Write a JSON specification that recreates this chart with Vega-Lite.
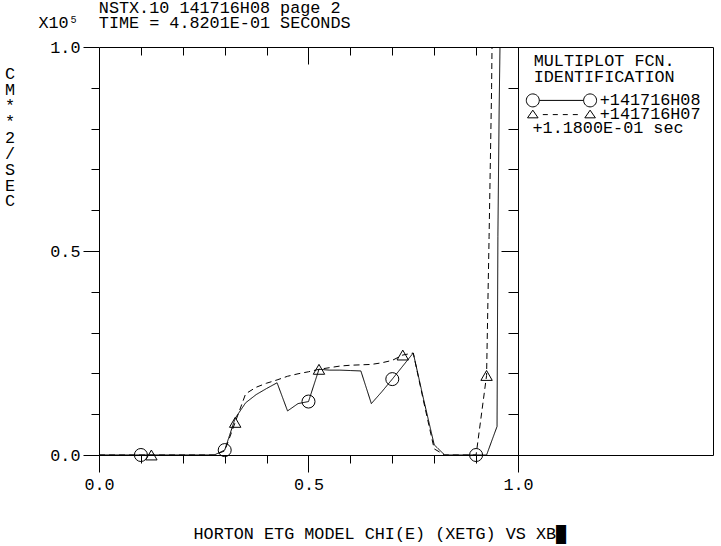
{
  "$schema": "https://vega.github.io/schema/vega-lite/v6.json",
  "width": 614,
  "height": 408,
  "autosize": {"type": "none"},
  "padding": {"left": 99, "top": 47, "right": 8, "bottom": 91},
  "background": "white",
  "config": {
    "view": {"stroke": null},
    "font": "Liberation Mono, DejaVu Sans Mono",
    "axis": {
      "grid": false,
      "tickColor": "black",
      "domainColor": "black",
      "tickWidth": 1,
      "domainWidth": 1,
      "labelFont": "Liberation Mono, DejaVu Sans Mono",
      "labelFontSize": 16.8,
      "labelColor": "black",
      "titleFont": "Liberation Mono, DejaVu Sans Mono",
      "titleFontSize": 16.8,
      "titleFontWeight": "normal",
      "titleColor": "black",
      "labelFlush": false,
      "labelOverlap": false
    },
    "legend": {
      "orient": "none",
      "direction": "vertical",
      "padding": 0,
      "titleFont": "Liberation Mono, DejaVu Sans Mono",
      "titleFontSize": 16.8,
      "titleFontWeight": "normal",
      "titleColor": "black",
      "labelFont": "Liberation Mono, DejaVu Sans Mono",
      "labelFontSize": 16.8,
      "labelColor": "black",
      "labelLimit": 300,
      "symbolSize": 144,
      "symbolStrokeWidth": 1,
      "symbolStrokeColor": "black",
      "symbolFillColor": "transparent",
      "symbolOpacity": 1
    }
  },
  "title": {
    "text": ["\u200b\u00a0\u00a0\u00a0\u00a0\u00a0\u00a0NSTX.10 141716H08 page 2", "X10\u2075\u00a0\u00a0TIME = 4.8201E-01 SECONDS"],
    "anchor": "start",
    "frame": "group",
    "dx": -60.6,
    "dy": 16.5,
    "font": "Liberation Mono, DejaVu Sans Mono",
    "fontSize": 16.8,
    "fontWeight": "normal",
    "color": "black",
    "lineHeight": 14.6,
    "baseline": "alphabetic",
    "offset": 11
  },
  "datasets": {
    "curves": [
      {"s": "+141716H08", "x": 0, "y": 0},
      {"s": "+141716H08", "x": 0.1, "y": 0},
      {"s": "+141716H08", "x": 0.2, "y": 0},
      {"s": "+141716H08", "x": 0.275, "y": 0},
      {"s": "+141716H08", "x": 0.3, "y": 0.012},
      {"s": "+141716H08", "x": 0.325, "y": 0.09},
      {"s": "+141716H08", "x": 0.35, "y": 0.128},
      {"s": "+141716H08", "x": 0.375, "y": 0.148},
      {"s": "+141716H08", "x": 0.4, "y": 0.163},
      {"s": "+141716H08", "x": 0.425, "y": 0.177},
      {"s": "+141716H08", "x": 0.45, "y": 0.108},
      {"s": "+141716H08", "x": 0.475, "y": 0.126},
      {"s": "+141716H08", "x": 0.5, "y": 0.131},
      {"s": "+141716H08", "x": 0.525, "y": 0.21},
      {"s": "+141716H08", "x": 0.55, "y": 0.208},
      {"s": "+141716H08", "x": 0.575, "y": 0.208},
      {"s": "+141716H08", "x": 0.6, "y": 0.207},
      {"s": "+141716H08", "x": 0.625, "y": 0.206},
      {"s": "+141716H08", "x": 0.65, "y": 0.126},
      {"s": "+141716H08", "x": 0.675, "y": 0.155},
      {"s": "+141716H08", "x": 0.7, "y": 0.186},
      {"s": "+141716H08", "x": 0.725, "y": 0.218},
      {"s": "+141716H08", "x": 0.75, "y": 0.25},
      {"s": "+141716H08", "x": 0.775, "y": 0.135},
      {"s": "+141716H08", "x": 0.8, "y": 0.025},
      {"s": "+141716H08", "x": 0.825, "y": 0},
      {"s": "+141716H08", "x": 0.9, "y": 0},
      {"s": "+141716H08", "x": 0.925, "y": 0},
      {"s": "+141716H08", "x": 0.95, "y": 0.07},
      {"s": "+141716H08", "x": 0.952, "y": 0.535},
      {"s": "+141716H08", "x": 0.955, "y": 0.845},
      {"s": "+141716H08", "x": 0.957, "y": 1.0},
      {"s": "+141716H07", "x": 0, "y": 0},
      {"s": "+141716H07", "x": 0.125, "y": 0},
      {"s": "+141716H07", "x": 0.275, "y": 0},
      {"s": "+141716H07", "x": 0.3, "y": 0.01},
      {"s": "+141716H07", "x": 0.325, "y": 0.08},
      {"s": "+141716H07", "x": 0.35, "y": 0.15},
      {"s": "+141716H07", "x": 0.375, "y": 0.166},
      {"s": "+141716H07", "x": 0.4, "y": 0.176},
      {"s": "+141716H07", "x": 0.425, "y": 0.184},
      {"s": "+141716H07", "x": 0.45, "y": 0.193},
      {"s": "+141716H07", "x": 0.475, "y": 0.199},
      {"s": "+141716H07", "x": 0.5, "y": 0.204},
      {"s": "+141716H07", "x": 0.525, "y": 0.21},
      {"s": "+141716H07", "x": 0.55, "y": 0.214},
      {"s": "+141716H07", "x": 0.575, "y": 0.218},
      {"s": "+141716H07", "x": 0.6, "y": 0.22},
      {"s": "+141716H07", "x": 0.625, "y": 0.221},
      {"s": "+141716H07", "x": 0.65, "y": 0.222},
      {"s": "+141716H07", "x": 0.675, "y": 0.226},
      {"s": "+141716H07", "x": 0.7, "y": 0.232},
      {"s": "+141716H07", "x": 0.725, "y": 0.245},
      {"s": "+141716H07", "x": 0.75, "y": 0.25},
      {"s": "+141716H07", "x": 0.775, "y": 0.13},
      {"s": "+141716H07", "x": 0.8, "y": 0.015},
      {"s": "+141716H07", "x": 0.825, "y": 0},
      {"s": "+141716H07", "x": 0.9, "y": 0},
      {"s": "+141716H07", "x": 0.925, "y": 0.195},
      {"s": "+141716H07", "x": 0.931, "y": 0.535},
      {"s": "+141716H07", "x": 0.937, "y": 0.9},
      {"s": "+141716H07", "x": 0.938, "y": 1.0}
    ],
    "markers": [
      {"s": "+141716H08", "x": 0.1, "y": 0},
      {"s": "+141716H08", "x": 0.3, "y": 0.012},
      {"s": "+141716H08", "x": 0.5, "y": 0.131},
      {"s": "+141716H08", "x": 0.7, "y": 0.186},
      {"s": "+141716H08", "x": 0.9, "y": 0},
      {"s": "+141716H07", "x": 0.125, "y": 0},
      {"s": "+141716H07", "x": 0.325, "y": 0.08},
      {"s": "+141716H07", "x": 0.525, "y": 0.21},
      {"s": "+141716H07", "x": 0.725, "y": 0.245},
      {"s": "+141716H07", "x": 0.925, "y": 0.195}
    ],
    "note": [
      {"note": "+1.1800E-01 sec"}
    ]
  },
  "layer": [
    {
      "data": {"name": "curves"},
      "mark": {"type": "line", "color": "black", "strokeWidth": 1},
      "encoding": {
        "x": {
          "field": "x", "type": "quantitative",
          "scale": {"domain": [0, 1.4654], "nice": false, "zero": false},
          "axis": {
            "orient": "bottom",
            "values": [0, 0.1, 0.2, 0.3, 0.4, 0.5, 0.6, 0.7, 0.8, 0.9, 1],
            "tickSize": {"condition": {"test": "datum.value === 0 || datum.value === 0.5 || datum.value === 1", "value": 17}, "value": 8},
            "labelExpr": "datum.value === 0 || datum.value === 0.5 || datum.value === 1 ? format(datum.value, '.1f') : ''",
            "labelPadding": 4,
            "title": "HORTON ETG MODEL CHI(E) (XETG) VS XB\u2588",
            "titleX": 94,
            "titleY": 83,
            "titleAlign": "left",
            "titleAnchor": "start",
            "titleBaseline": "alphabetic"
          }
        },
        "y": {
          "field": "y", "type": "quantitative",
          "scale": {"domain": [0, 1], "nice": false, "zero": false},
          "axis": {
            "orient": "left",
            "values": [0, 0.1, 0.2, 0.3, 0.4, 0.5, 0.6, 0.7, 0.8, 0.9, 1],
            "tickSize": {"condition": {"test": "datum.value === 0 || datum.value === 0.5 || datum.value === 1", "value": 16}, "value": 8},
            "labelExpr": "datum.value === 0 || datum.value === 0.5 || datum.value === 1 ? format(datum.value, '.1f') : ''",
            "labelPadding": 3,
            "title": ["C", "M", "*", "*", "2", "/", "S", "E", "C"],
            "titleAngle": 0,
            "titleX": -89.5,
            "titleY": 18.8,
            "titleAlign": "center",
            "titleBaseline": "top",
            "titleLineHeight": 15.9
          }
        },
        "strokeDash": {
          "field": "s", "type": "nominal",
          "scale": {"domain": ["+141716H08", "+141716H07"], "range": [[1, 0], [6, 4]]},
          "legend": null
        }
      }
    },
    {
      "data": {"name": "markers"},
      "mark": {"type": "point", "filled": false, "color": "black", "strokeWidth": 1, "opacity": 1},
      "encoding": {
        "x": {
          "field": "x", "type": "quantitative",
          "scale": {"domain": [0, 1.4654], "nice": false, "zero": false},
          "axis": {
            "orient": "top",
            "values": [0.1, 0.2, 0.3, 0.4, 0.5, 0.6, 0.7, 0.8, 0.9],
            "tickSize": {"condition": {"test": "datum.value === 0.5", "value": -17}, "value": -8},
            "labels": false,
            "title": null
          }
        },
        "y": {
          "field": "y", "type": "quantitative",
          "scale": {"domain": [0, 1], "nice": false, "zero": false},
          "axis": {
            "orient": "right",
            "offset": -195,
            "values": [0.1, 0.2, 0.3, 0.4, 0.5, 0.6, 0.7, 0.8, 0.9],
            "tickSize": {"condition": {"test": "datum.value === 0.5", "value": -17}, "value": -10},
            "labels": false,
            "title": null
          }
        },
        "shape": {
          "field": "s", "type": "nominal",
          "scale": {"domain": ["+141716H08", "+141716H07"], "range": ["circle", "triangle-up"]},
          "legend": null
        },
        "size": {
          "field": "s", "type": "nominal",
          "scale": {"domain": ["+141716H08", "+141716H07"], "range": [169, 130]},
          "legend": null
        }
      }
    },
    {
      "data": {"name": "markers"},
      "transform": [{"filter": "datum.s === '+141716H08'"}],
      "mark": {"type": "point", "filled": false, "color": "black", "strokeWidth": 1, "opacity": 0, "size": 144},
      "encoding": {
        "x": {
          "field": "x", "type": "quantitative",
          "scale": {"domain": [0, 1.4654], "nice": false, "zero": false},
          "axis": null
        },
        "y": {
          "field": "y", "type": "quantitative",
          "scale": {"domain": [0, 1], "nice": false, "zero": false},
          "axis": {"orient": "right", "ticks": false, "labels": false, "domain": true, "title": null}
        },
        "shape": {
          "field": "s", "type": "nominal",
          "scale": {
            "domain": ["+141716H08"],
            "range": ["M -0.47 0 A 1.08 1.08 0 1 0 -2.63 0 A 1.08 1.08 0 1 0 -0.47 0 L 6.92 0 A 1.08 1.08 0 1 0 9.08 0 A 1.08 1.08 0 1 0 6.92 0"]
          },
          "legend": {
            "legendX": 434.7,
            "legendY": 5.7,
            "title": ["MULTIPLOT FCN.", "IDENTIFICATION"],
            "titleLineHeight": 16.5,
            "titleBaseline": "top",
            "titlePadding": 6,
            "labelOffset": 49.3
          }
        }
      }
    },
    {
      "data": {"name": "markers"},
      "transform": [{"filter": "datum.s === '+141716H07'"}],
      "mark": {"type": "point", "filled": false, "color": "black", "strokeWidth": 1, "opacity": 0, "size": 144},
      "encoding": {
        "x": {
          "field": "x", "type": "quantitative",
          "scale": {"domain": [0, 1.4654], "nice": false, "zero": false},
          "axis": null
        },
        "y": {
          "field": "y", "type": "quantitative",
          "scale": {"domain": [0, 1], "nice": false, "zero": false},
          "axis": null
        },
        "shape": {
          "field": "s", "type": "nominal",
          "scale": {
            "domain": ["+141716H07"],
            "range": ["M -2.43 0.64 L -1.55 -0.64 L -0.67 0.64 Z M 0.12 0.1 L 0.95 0.1 M 1.78 0.1 L 2.62 0.1 M 3.45 0.1 L 4.28 0.1 M 5.12 0.1 L 5.95 0.1 M 7.12 0.64 L 8 -0.64 L 8.88 0.64 Z"]
          },
          "legend": {
            "legendX": 434.7,
            "legendY": 58.6,
            "title": null,
            "labelOffset": 49.3
          }
        }
      }
    },
    {
      "data": {"name": "note"},
      "mark": {"type": "point", "filled": false, "color": "black", "strokeWidth": 1, "opacity": 0, "size": 144},
      "encoding": {
        "shape": {
          "field": "note", "type": "nominal",
          "scale": {"domain": ["+1.1800E-01 sec"], "range": ["M 0 0"]},
          "legend": {
            "legendX": 416.7,
            "legendY": 72.6,
            "title": null,
            "labelOffset": 0
          }
        }
      }
    }
  ],
  "resolve": {
    "scale": {"shape": "independent", "size": "independent"},
    "axis": {"x": "independent", "y": "independent"},
    "legend": {"shape": "independent"}
  }
}
